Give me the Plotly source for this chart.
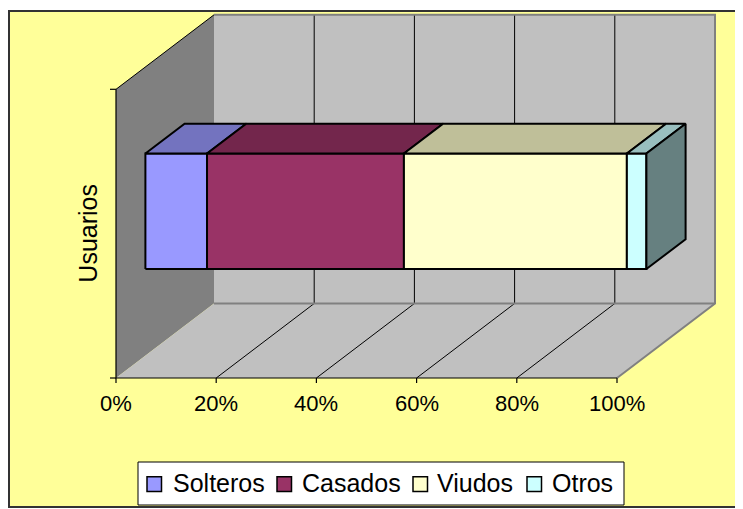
import plotly.graph_objects as go

# ---------------- data ----------------
categories = ["Usuarios"]
series_names = ["Solteros", "Casados", "Viudos", "Otros"]
series_values = [12.3, 39.3, 44.5, 3.9]
tick_values = [0, 20, 40, 60, 80, 100]
tick_labels = ["0%", "20%", "40%", "60%", "80%", "100%"]

front_colors = ["#9999FF", "#993366", "#FFFFCC", "#CCFFFF"]
top_colors = ["#7373BF", "#73264C", "#BFBF99", "#99BFBF"]
side_colors = ["#4D4D80", "#4D1A33", "#808066", "#668080"]

# ---------------- layout geometry (figure pixels; page has an 8px body margin) ----------------
W, H = 735, 501
PX0, PX100 = 108, 609          # front x of 0% and 100%
PY_FLOOR, PY_TOP = 370, 81.3   # front floor / top of left wall
DEPTH_DX, DEPTH_DY = 98, 74.5  # offset of back plane vs front plane
GAP_WIDTH = 1.5
D0, D1 = 0.3, 0.7              # bar depth span (fraction of box depth)

LEG_BOX = (130, 454, 616, 497)
LEG_SWATCH_X = [139, 269, 405, 519]
LEG_TEXT_X = [163, 292, 427, 542]
LEG_SWATCH_Y = (468.7, 483.5)
LEG_TEXT_Y = 475

sx = (PX100 - PX0) / 100.0
sy = (PY_FLOOR - PY_TOP)
DX = DEPTH_DX / sx
DY = DEPTH_DY / sy


def P(p, v, d):
    return p + d * DX, v + d * DY


def px(x):
    return x / W


def py(y):
    return 1 - y / H


fig = go.Figure()


def poly(pts, fill, lc="black", lw=0):
    xy = [P(*pt) for pt in pts]
    xs = [a for a, b in xy] + [xy[0][0]]
    ys = [b for a, b in xy] + [xy[0][1]]
    fig.add_trace(go.Scatter(x=xs, y=ys, mode="lines", fill="toself", fillcolor=fill,
                             line=dict(color=lc, width=lw), hoverinfo="skip", showlegend=False))


def seg(pts, color, width):
    xy = [P(*pt) for pt in pts]
    fig.add_trace(go.Scatter(x=[a for a, b in xy], y=[b for a, b in xy], mode="lines",
                             line=dict(color=color, width=width), hoverinfo="skip", showlegend=False))


# walls
poly([(0, 0, 0), (0, 1, 0), (0, 1, 1), (0, 0, 1)], "#808080")
poly([(0, 0, 1), (100, 0, 1), (100, 1, 1), (0, 1, 1)], "#C0C0C0")
poly([(0, 0, 0), (100, 0, 0), (100, 0, 1), (0, 0, 1)], "#C0C0C0")

# gridlines
for t in tick_values[1:-1]:
    seg([(t, 0, 0), (t, 0, 1), (t, 1, 1)], "black", 1)
# wall edges
seg([(0, 1, 1), (100, 1, 1), (100, 0, 1), (100, 0, 0)], "#808080", 2)
seg([(0, 0, 1), (100, 0, 1)], "#808080", 2)
seg([(0, 1, 0), (0, 1, 1)], "black", 1)
# axes
seg([(0, 1, 0), (0, 0, 0), (100, 0, 0)], "black", 1.2)
for v in (0, 1):
    seg([(0, v, 0), (-6 / sx, v, 0)], "black", 1.2)
for t in tick_values:
    seg([(t, 0, 0), (t, -5 / sy, 0)], "black", 1.2)

# bars (100% stacked)
n = len(categories)
total = sum(series_values)
for ci in range(n):
    band = 1.0 / n
    h = band / (1 + GAP_WIDTH)
    vb = ci * band + (band - h) / 2
    vt = vb + h
    cum = 0.0
    for si, val in enumerate(series_values):
        a = cum / total * 100
        cum += val
        b = cum / total * 100
        poly([(a, vb, D0), (b, vb, D0), (b, vt, D0), (a, vt, D0)], front_colors[si], "black", 2)
        poly([(a, vt, D0), (b, vt, D0), (b, vt, D1), (a, vt, D1)], top_colors[si], "black", 2)
        if si == len(series_values) - 1:
            poly([(b, vb, D0), (b, vt, D0), (b, vt, D1), (b, vb, D1)], side_colors[si], "black", 2)

FONT = "Liberation Sans, Arial, sans-serif"
ann = []
for t, lab in zip(tick_values, tick_labels):
    x, _ = P(t, 0, 0)
    ann.append(dict(x=x, y=-25 / sy, xref="x", yref="y", text=lab, showarrow=False,
                    xanchor="center", yanchor="middle", font=dict(size=22, color="black", family=FONT)))
ann.append(dict(x=P(0, 0.5, 0)[0] - 28 / sx, y=0.5, xref="x", yref="y", text=categories[0],
                textangle=-90, showarrow=False, xanchor="center", yanchor="middle",
                font=dict(size=25, color="black", family=FONT)))

shapes = [dict(type="rect", xref="paper", yref="paper", x0=px(1), x1=px(733),
               y0=py(499), y1=py(3), fillcolor="#FFFF99",
               line=dict(color="#333333", width=2), layer="below")]

# legend
shapes.append(dict(type="rect", xref="paper", yref="paper", x0=px(LEG_BOX[0]), x1=px(LEG_BOX[2]),
                   y0=py(LEG_BOX[3]), y1=py(LEG_BOX[1]), fillcolor="white",
                   line=dict(color="black", width=1), layer="above"))
for si, name in enumerate(series_names):
    x0 = LEG_SWATCH_X[si]
    shapes.append(dict(type="rect", xref="paper", yref="paper", x0=px(x0), x1=px(x0 + 14.5),
                       y0=py(LEG_SWATCH_Y[1]), y1=py(LEG_SWATCH_Y[0]), fillcolor=front_colors[si],
                       line=dict(color="black", width=1.5), layer="above"))
    ann.append(dict(x=px(LEG_TEXT_X[si]), y=py(LEG_TEXT_Y), xref="paper", yref="paper", text=name,
                    showarrow=False, xanchor="left", yanchor="middle",
                    font=dict(size=25, color="black", family=FONT)))

fig.update_layout(
    width=W, height=H, margin=dict(l=0, r=0, t=0, b=0),
    paper_bgcolor="white", plot_bgcolor="rgba(0,0,0,0)",
    xaxis=dict(range=[-PX0 / sx, (W - PX0) / sx], visible=False, fixedrange=True),
    yaxis=dict(range=[-(H - PY_FLOOR) / sy, PY_FLOOR / sy], visible=False, fixedrange=True),
    shapes=shapes,
    annotations=ann,
    showlegend=False,
    font=dict(family=FONT),
)

fig.write_html("out.html")
